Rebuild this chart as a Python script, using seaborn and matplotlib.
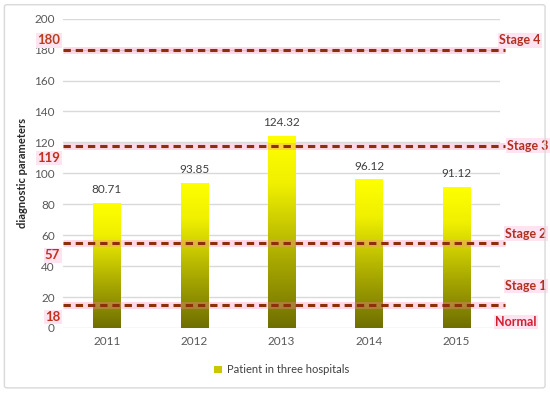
import numpy as np
import pandas as pd
import matplotlib
matplotlib.use("Agg")
import matplotlib.pyplot as plt
import seaborn as sns
from matplotlib.patches import Rectangle, FancyBboxPatch
from matplotlib.colors import LinearSegmentedColormap

years = ["2011", "2012", "2013", "2014", "2015"]
values = [80.71, 93.85, 124.32, 96.12, 91.12]
series_name = "Patient in three hospitals"

# stage threshold lines: (line value, left label, right label)
line_values = [180, 118, 55, 15]
left_labels = ["180", "119", "57", "18"]
right_labels = ["Stage 4", "Stage 3", "Stage 2", "Stage 1"]

sns.set_style("white")
plt.rcParams["font.family"] = ["Lato", "DejaVu Sans"]

df = pd.DataFrame({"year": years, "value": values})

fig = plt.figure(figsize=(5.5, 3.93), dpi=100)
ax = fig.add_axes([0.1145, 0.1654, 0.795, 0.787])

# outer chart border
fig.patches.append(FancyBboxPatch((0.008, 0.013), 0.983, 0.975, boxstyle="round,pad=0,rounding_size=0.005",
                                  transform=fig.transFigure, fill=False, edgecolor="#d9d9d9", linewidth=1))

sns.barplot(data=df, x="year", y="value", color="#ffff00", width=0.31, ax=ax, zorder=2)

# vertical gradient inside each bar
cmap = LinearSegmentedColormap.from_list("yo", [(0, "#6f6f00"), (0.35, "#a8a800"), (0.75, "#f0f000"), (1, "#ffff00")])
grad = np.linspace(0, 1, 256).reshape(-1, 1)
for p in ax.patches:
    x0, y0, w, h = p.get_x(), p.get_y(), p.get_width(), p.get_height()
    im = ax.imshow(grad, cmap=cmap, origin="lower", aspect="auto",
                   extent=[x0, x0 + w, y0, y0 + h], zorder=2.1)
    im.set_clip_path(p)
    p.set_edgecolor("none")
    ax.text(x0 + w / 2, y0 + h + 5, f"{h:.2f}", ha="center", va="bottom", fontsize=8.5, color="#404040")

ax.set_xlim(-0.5, 4.5)
ax.set_ylim(0, 200)
ax.set_yticks(range(0, 201, 20))
ax.grid(axis="y", color="#d9d9d9", linewidth=1, zorder=0)
ax.set_axisbelow(True)
for s in ax.spines.values():
    s.set_visible(False)
ax.tick_params(axis="both", length=0, labelsize=8.5, labelcolor="#595959", pad=6)
ax.set_xlabel("")
ax.set_ylabel("diagnostic parameters", fontsize=8, fontweight="bold", color="#262626", labelpad=4)

# threshold lines with faint pink glow
for v in line_values:
    ax.plot([-0.5, 4.56], [v, v], color="#ff80b0", alpha=0.3, linewidth=5, solid_capstyle="butt", zorder=3, clip_on=False)
    ax.plot([-0.5, 4.56], [v, v], color="#8b3008", linewidth=2.2, dashes=(2.4, 1.6), zorder=4, clip_on=False)

pink = dict(boxstyle="square,pad=0.1", facecolor="#ffe3f1", edgecolor="none")
left_offsets = [6, -8, -8, -8]
left_colors = ["#b5401e", "#c0301e", "#c0301e", "#c0301e"]
for v, lab, off, c in zip(line_values, left_labels, left_offsets, left_colors):
    ax.text(-0.53, v + off, lab, ha="right", va="center", fontsize=9.5, fontweight="bold",
            color=c, bbox=pink, clip_on=False)

right_pos = [(4.49, 186), (4.58, 118), (4.56, 61), (4.56, 27)]
for (x, y), lab in zip(right_pos, right_labels):
    ax.text(x, y, lab, ha="left", va="center", fontsize=9, fontweight="bold",
            color="#b03020", bbox=pink, clip_on=False)
ax.text(4.44, 4, "Normal", ha="left", va="center", fontsize=9, fontweight="bold",
        color="#d02030", bbox=pink, clip_on=False)

handle = Rectangle((0, 0), 1, 1, facecolor="#c8c800", edgecolor="none")
ax.legend([handle], [series_name], loc="upper center", bbox_to_anchor=(0.5, -0.085), frameon=False,
          fontsize=8, handlelength=0.7, handleheight=0.7, handletextpad=0.4, labelcolor="#404040")

fig.savefig("out.png", dpi=100)
